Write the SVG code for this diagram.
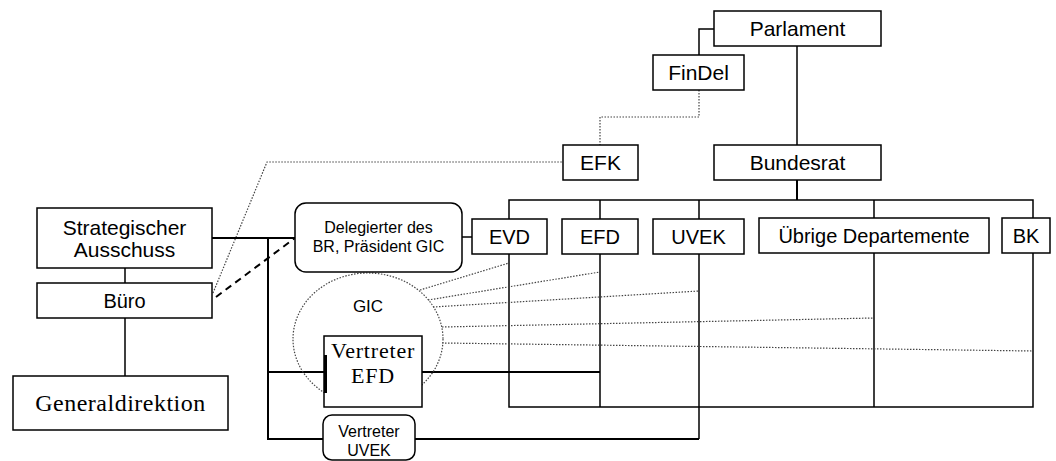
<svg xmlns="http://www.w3.org/2000/svg" width="1056" height="461" viewBox="0 0 1056 461">
<style>
.box{fill:#fff;stroke:#000;stroke-width:1.5}
.t{font-family:"Liberation Sans",Arial,sans-serif;font-size:20px;fill:#000;text-anchor:middle}
.s{font-family:"Liberation Serif","Times New Roman",serif;fill:#000;text-anchor:middle}
.ln{fill:none;stroke:#000;stroke-width:1.5}
.thk{fill:none;stroke:#000;stroke-width:2}
.dot{fill:none;stroke:#444;stroke-width:1.2;stroke-dasharray:1.5 1.5}
.dash{fill:none;stroke:#000;stroke-width:2;stroke-dasharray:7 5}
</style>
<rect width="1056" height="461" fill="#fff"/>
<g id="connectors">
<path class="ln" d="M699,55 V29 H714"/>
<path class="ln" d="M797,46 V145"/>
<path class="dot" d="M699,90 V117 H600 V145"/>
<path class="thk" d="M797,180 V200"/>
<path class="ln" d="M509,219 V200 H1033 V218"/>
<path class="ln" d="M600,219 V200 M699,219 V200 M874,218 V200"/>
<path class="ln" d="M509,254 V407 H1033 V253"/>
<path class="ln" d="M600,254 V407 M874,253 V407"/>
<path class="ln" d="M699,254 V439"/>
<path class="ln" d="M462,237 H472"/>
<path class="dot" d="M213,293 L267,162 H562"/>
<path class="dash" d="M216,297 L295,238"/>
<path class="ln" d="M125,268 V283 M125,318 V376"/>
<path class="thk" d="M212,238 H295"/>
<path class="thk" d="M268,238 V439 H323"/>
<path class="thk" d="M268,372 H325 M422,372 H600"/>
<path class="thk" d="M415,439 H699"/>
<path class="dot" d="M420,290 L509,263"/>
<path class="dot" d="M428,300 L600,272"/>
<path class="dot" d="M433,307 L699,291"/>
<path class="dot" d="M442,327 L874,318"/>
<path class="dot" d="M442,343 L1033,351"/>
</g>
<g id="gic">
<ellipse class="dot" cx="368" cy="339" rx="75" ry="66"/>
<text class="t" x="368" y="312" style="font-size:17px">GIC</text>
</g>
<g id="parlament"><rect class="box" x="714" y="11" width="167" height="35"/><text class="t" x="797.5" y="36" style="font-size:21px">Parlament</text></g>
<g id="findel"><rect class="box" x="653" y="55" width="91" height="35"/><text class="t" x="698.5" y="80" style="font-size:21px">FinDel</text></g>
<g id="efk"><rect class="box" x="563" y="145" width="75" height="35"/><text class="t" x="600.5" y="170" style="font-size:21px">EFK</text></g>
<g id="bundesrat"><rect class="box" x="714" y="145" width="167" height="35"/><text class="t" x="797.5" y="170" style="font-size:21px">Bundesrat</text></g>
<g id="evd"><rect class="box" x="472" y="219" width="75" height="35"/><text class="t" x="509.5" y="244">EVD</text></g>
<g id="efd"><rect class="box" x="562" y="219" width="76" height="35"/><text class="t" x="600" y="244">EFD</text></g>
<g id="uvek"><rect class="box" x="653" y="219" width="91" height="35"/><text class="t" x="698.5" y="244">UVEK</text></g>
<g id="uebrige"><rect class="box" x="759" y="218" width="230" height="35"/><text class="t" x="874" y="243">Übrige Departemente</text></g>
<g id="bk"><rect class="box" x="1002" y="218" width="48" height="35"/><text class="t" x="1026" y="243">BK</text></g>
<g id="delegierter"><rect class="box" x="295" y="203" width="167" height="69" rx="11" ry="11"/><text class="t" x="378.5" y="233" style="font-size:16px">Delegierter des</text><text class="t" x="378.5" y="252" style="font-size:16px">BR, Präsident GIC</text></g>
<g id="strategischer"><rect class="box" x="37" y="208" width="175" height="60"/><text class="t" x="124.5" y="235" style="font-size:21px">Strategischer</text><text class="t" x="124.5" y="257" style="font-size:21px">Ausschuss</text></g>
<g id="buero"><rect class="box" x="37" y="283" width="175" height="35"/><text class="t" x="124.5" y="308">Büro</text></g>
<g id="generaldirektion"><rect class="box" x="13" y="376" width="215" height="54"/><text class="s" x="120.5" y="411" style="font-size:24px;letter-spacing:0.5px">Generaldirektion</text></g>
<g id="vertreter-efd"><rect class="box" x="324" y="336" width="98" height="71"/><path class="thk" d="M325.5,355 V393" style="stroke-width:3"/><text class="s" x="373" y="358" style="font-size:22px;letter-spacing:0.8px">Vertreter</text><text class="s" x="373" y="383" style="font-size:22px;letter-spacing:0.8px">EFD</text></g>
<g id="vertreter-uvek"><rect class="box" x="323" y="415" width="92" height="45" rx="9" ry="9"/><text class="t" x="369" y="437" style="font-size:16px">Vertreter</text><text class="t" x="369" y="456" style="font-size:16px">UVEK</text></g>
</svg>
